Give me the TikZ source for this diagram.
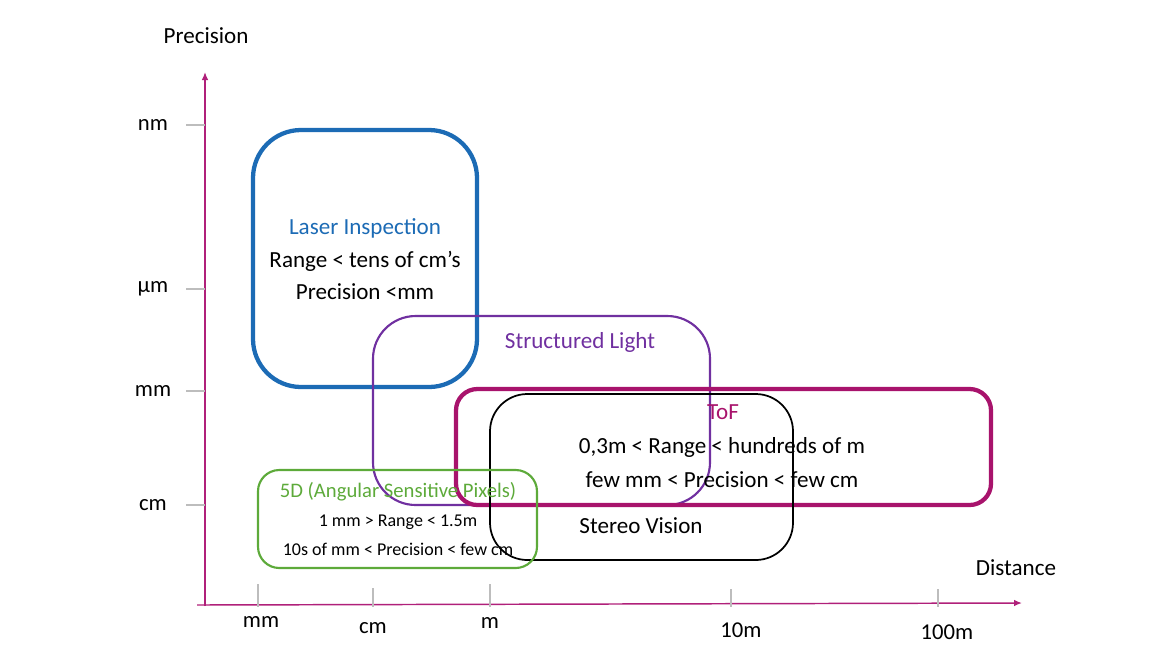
\documentclass[tikz,border=0pt]{standalone}
\usepackage{fontspec}
\setmainfont{Carlito}
\usepackage{xcolor}
\usepackage{tikz}
\usetikzlibrary{arrows.meta}
\definecolor{axisx}{HTML}{B0207A}
\definecolor{laserx}{HTML}{1C6BB5}
\definecolor{structx}{HTML}{7030A0}
\definecolor{tofx}{HTML}{A8136C}
\definecolor{greenx}{HTML}{5DAA3A}
\definecolor{tickx}{HTML}{BDBDBD}
\tikzset{
  ax/.style={-{Latex[length=6pt,width=5pt]},line width=1.1pt,axisx},
  tk/.style={tickx,line width=1pt},
  lb/.style={font=\fontsize{17}{20}\selectfont,inner sep=0pt},
  ttl/.style={font=\fontsize{17.3}{20}\selectfont,inner sep=0pt},
  txt/.style={font=\fontsize{17.3}{20}\selectfont,inner sep=0pt},
  grn/.style={font=\fontsize{15.5}{18}\selectfont,inner sep=0pt},
  sml/.style={font=\fontsize{13.5}{16}\selectfont,inner sep=0pt},
  zone/.style={rounded corners=#1}
}
\begin{document}
\begin{tikzpicture}[x=0.75pt,y=-0.75pt]
\useasboundingbox (0,0) rectangle (1170,658);
% axes
\coordinate (o) at (205,606);
\coordinate (ytop) at (205,72);
\coordinate (xl) at (197,605);
\coordinate (xr) at (1022,603);
\draw[ax] (o) -- (ytop);
\draw[ax] (xl) -- (xr);
\node[txt] (ylab) at (206,36) {Precision};
\node[txt] (xlab) at (1016,568) {Distance};
% precision ticks
\foreach \yy/\tt in {125/nm,289/µm,391/mm,505/cm}{
  \draw[tk] (186,\yy) -- (205,\yy);
  \node[lb] (y-\tt) at (153,\yy) {\tt};
}
% distance ticks
\foreach \xx/\yy in {258/584,373/588,490/584,731/589,938/589}{
  \draw[tk] (\xx,\yy) -- (\xx,607);
}
\node[lb] (x-mm) at (261,622) {mm};
\node[lb] (x-cm) at (373,628) {cm};
\node[lb] (x-m) at (490,623) {m};
\node[lb] (x-10m) at (741,630) {10m};
\node[lb] (x-100m) at (947,632) {100m};
% zones
\draw[zone=36,laserx,line width=3.2pt] (253,130) rectangle (477,387);
\draw[zone=32,structx,line width=1.6pt] (373,316) rectangle (710,505);
\draw[zone=16,tofx,line width=3.2pt] (456,389) rectangle (991,505);
\draw[zone=28,black,line width=1.3pt] (490,394) rectangle (793,560);
\draw[zone=16,greenx,line width=1.6pt] (258,470) rectangle (537,568);
% labels
\node[ttl,laserx] (laser) at (365,228) {Laser Inspection};
\node[txt] (laser-r) at (365,261) {Range < tens of cm’s};
\node[txt] (laser-p) at (365,292) {Precision <mm};
\node[ttl,structx] (struct) at (580,342) {Structured Light};
\node[ttl,tofx] (tof) at (723,412) {ToF};
\node[txt] (tof-r) at (722,447) {0,3m < Range < hundreds of m};
\node[txt] (tof-p) at (722,480) {few mm < Precision < few cm};
\node[txt] (stereo) at (641,526) {Stereo Vision};
\node[grn,greenx] (asp) at (398,492) {5D (Angular Sensitive Pixels)};
\node[sml] (asp-r) at (398,522) {1 mm > Range < 1.5m};
\node[sml] (asp-p) at (398,549) {10s of mm < Precision < few cm};
\end{tikzpicture}
\end{document}
